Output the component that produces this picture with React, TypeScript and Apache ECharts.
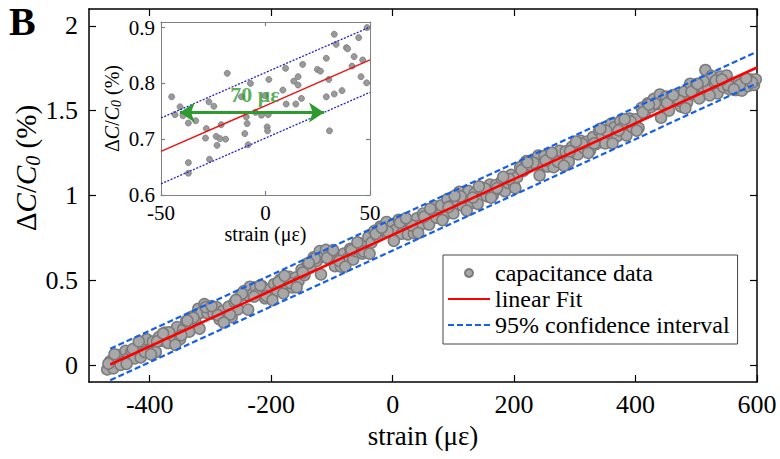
import React, { useEffect, useRef } from "react";
import * as echarts from "echarts";

const FONT = "Liberation Serif, Times New Roman, serif";

// ---- main panel data: strain (µε) and ΔC/C0 (%) ----
const strainRun1 = [
  -470, -465, -460, -455, -450, -445, -440, -435, -430, -425,
  -420, -415, -410, -405, -400, -395, -390, -385, -380, -375,
  -370, -365, -360, -355, -350, -345, -340, -335, -330, -325,
  -320, -315, -310, -305, -300, -295, -290, -285, -280, -275,
  -270, -265, -260, -255, -250, -245, -240, -235, -230, -225,
  -220, -215, -210, -205, -200, -195, -190, -185, -180, -175,
  -170, -165, -160, -155, -150, -145, -140, -135, -130, -125,
  -120, -115, -110, -105, -100, -95, -90, -85, -80, -75,
  -70, -65, -60, -55, -50, -45, -40, -35, -30, -25,
  -20, -15, -10, -5, 0, 5, 10, 15, 20, 25,
  30, 35, 40, 45, 50, 55, 60, 65, 70, 75,
  80, 85, 90, 95, 100, 105, 110, 115, 120, 125,
  130, 135, 140, 145, 150, 155, 160, 165, 170, 175,
  180, 185, 190, 195, 200, 205, 210, 215, 220, 225,
  230, 235, 240, 245, 250, 255, 260, 265, 270, 275,
  280, 285, 290, 295, 300, 305, 310, 315, 320, 325,
  330, 335, 340, 345, 350, 355, 360, 365, 370, 375,
  380, 385, 390, 395, 400, 405, 410, 415, 420, 425,
  430, 435, 440, 445, 450, 455, 460, 465, 470, 475,
  480, 485, 490, 495, 500, 505, 510, 515, 520, 525,
  530, 535, 540, 545, 550, 555, 560, 565, 570, 575,
  580, 585, 590, 595, 598,
];
const capRun1 = [
  -0.026, 0.023, -0.019, 0.029, 0.058, 0.016, 0.084, 0.042, 0.081, 0.039,
  0.107, 0.045, 0.104, 0.152, 0.09, 0.138, 0.077, 0.165, 0.143, 0.191,
  0.13, 0.188, 0.166, 0.224, 0.153, 0.211, 0.259, 0.197, 0.286, 0.264,
  0.332, 0.31, 0.359, 0.307, 0.345, 0.303, 0.342, 0.27, 0.318, 0.276,
  0.345, 0.283, 0.371, 0.329, 0.408, 0.436, 0.414, 0.462, 0.421, 0.459,
  0.427, 0.465, 0.394, 0.442, 0.4, 0.478, 0.437, 0.505, 0.423, 0.481,
  0.52, 0.458, 0.516, 0.494, 0.563, 0.531, 0.599, 0.577, 0.636, 0.614,
  0.672, 0.64, 0.679, 0.627, 0.655, 0.583, 0.632, 0.58, 0.658, 0.626,
  0.685, 0.623, 0.671, 0.719, 0.658, 0.716, 0.754, 0.722, 0.791, 0.759,
  0.817, 0.795, 0.844, 0.802, 0.83, 0.798, 0.857, 0.775, 0.833, 0.771,
  0.83, 0.778, 0.866, 0.824, 0.893, 0.861, 0.829, 0.897, 0.936, 0.884,
  0.942, 0.88, 0.979, 0.937, 0.895, 0.973, 1.022, 0.94, 0.988, 1.026,
  0.955, 1.013, 0.951, 1.049, 1.018, 0.996, 1.064, 1.002, 1.061, 1.039,
  1.087, 1.025, 1.074, 1.122, 1.06, 1.108, 1.167, 1.145, 1.203, 1.181,
  1.21, 1.188, 1.236, 1.184, 1.233, 1.171, 1.229, 1.167, 1.226, 1.264,
  1.202, 1.26, 1.199, 1.287, 1.265, 1.243, 1.322, 1.28, 1.318, 1.266,
  1.345, 1.303, 1.381, 1.349, 1.308, 1.376, 1.424, 1.402, 1.351, 1.439,
  1.407, 1.355, 1.454, 1.402, 1.45, 1.398, 1.517, 1.485, 1.543, 1.521,
  1.57, 1.538, 1.596, 1.534, 1.583, 1.501, 1.589, 1.557, 1.586, 1.524,
  1.612, 1.55, 1.659, 1.597, 1.655, 1.573, 1.642, 1.74, 1.628, 1.706,
  1.665, 1.603, 1.701, 1.639, 1.708, 1.626, 1.664, 1.622, 1.671, 1.619,
  1.677, 1.645, 1.684, 1.652, 1.685,
];
const strainRun2 = [
  -468, -448, -428, -408, -388, -368, -348, -328, -308, -288,
  -268, -248, -228, -208, -188, -168, -148, -128, -108, -88,
  -68, -48, -28, -8, 12, 32, 52, 72, 92, 112,
  132, 152, 172, 192, 212, 232, 252, 272, 292, 312,
  332, 352, 372, 392, 412, 432, 452, 472, 492, 512,
  532, 552, 572, 592,
];
const capRun2 = [
  0.008, 0.001, 0.094, 0.077, 0.14, 0.193, 0.176, 0.279, 0.342, 0.295,
  0.298, 0.421, 0.404, 0.407, 0.49, 0.483, 0.546, 0.629, 0.632, 0.615,
  0.678, 0.671, 0.774, 0.787, 0.84, 0.823, 0.876, 0.869, 0.932, 0.995,
  0.988, 1.041, 1.044, 1.097, 1.15, 1.193, 1.206, 1.199, 1.262, 1.305,
  1.308, 1.381, 1.384, 1.437, 1.49, 1.543, 1.546, 1.559, 1.612, 1.675,
  1.678, 1.651, 1.654, 1.667,
];
const strainRun3 = [
  -458, -438, -418, -398, -378, -358, -338, -318, -298, -278,
  -258, -238, -218, -198, -178, -158, -138, -118, -98, -78,
  -58, -38, -18, 2, 22, 42, 62, 82, 102, 122,
  142, 162, 182, 202, 222, 242, 262, 282, 302, 322,
  342, 362, 382, 402, 422, 442, 462, 482, 502, 522,
  542, 562, 582,
];
const capRun3 = [
  0.064, 0.007, 0.14, 0.063, 0.186, 0.119, 0.262, 0.215, 0.348, 0.251,
  0.384, 0.327, 0.47, 0.383, 0.526, 0.459, 0.602, 0.535, 0.678, 0.581,
  0.724, 0.657, 0.81, 0.733, 0.866, 0.779, 0.922, 0.855, 0.998, 0.911,
  1.054, 0.987, 1.11, 1.043, 1.196, 1.119, 1.252, 1.175, 1.318, 1.251,
  1.394, 1.307, 1.45, 1.383, 1.536, 1.459, 1.592, 1.515, 1.658, 1.591,
  1.684, 1.627, 1.69,
];
const fitStrain = [-465, 600];
const fitMain = [0.003, 1.755];
const confUpperMain = [0.096, 1.848];
const confLowerMain = [-0.09, 1.662];

// ---- inset data ----
const insetStrain = [
  -44.9, -43.3, -40.9, -39.5, -36.9, -33.4, -36.9, -36.9, -27.1, -24.7,
  -28.3, -28.7, -26.8, -23.6, -21.8, -19.1, -23.2, -21.2, -18.3, -11.5,
  -9.9, -8.8, -8.3, -9.2, -7.2, -4.8, -1.9, 1.3, 0.8, 1.0,
  -0.3, 1.6, 8.3, 9.9, 9.6, 13.5, 15.6, 15.6, 14.5, 17.2,
  17.8, 24.8, 26.3, 30.6, 29.1, 30.3, 29.1, 32.9, 33.8, 32.9,
  36.6, 38.7, 39.3, 41.4, 42.4, 44.6, 46.5, 45.7, 48.4, 48.6,
];
const insetCap = [
  0.776, 0.744, 0.758, 0.742, 0.729, 0.733, 0.658, 0.639, 0.767, 0.759,
  0.719, 0.702, 0.664, 0.705, 0.701, 0.7, 0.689, 0.726, 0.818, 0.776,
  0.71, 0.728, 0.69, 0.74, 0.8, 0.748, 0.743, 0.744, 0.722, 0.715,
  0.778, 0.807, 0.788, 0.763, 0.827, 0.804, 0.812, 0.797, 0.763, 0.773,
  0.834, 0.825, 0.822, 0.715, 0.776, 0.807, 0.845, 0.888, 0.87, 0.781,
  0.787, 0.864, 0.862, 0.831, 0.848, 0.882, 0.842, 0.812, 0.801, 0.9,
];
const fitInsetStrain = [-50, 50];
const fitInset = [0.678, 0.842];
const confUpperInset = [0.738, 0.901];
const confLowerInset = [0.62, 0.784];
const arrowFrom = [-41, 0.748];
const arrowTo = [28, 0.748];
const arrowLabelAt = [-5, 0.78];

// ---- ticks ----
const mainXTicks = [-400, -200, 0, 200, 400, 600];
const mainYTicks = [0, 0.5, 1, 1.5, 2];
const insetXTicks = [-50, 0, 50];
const insetYTicks = [0.6, 0.7, 0.8, 0.9];

const zip = (a: number[], b: number[]) => a.map((v, i) => [v, b[i]]);

const axisBase = (color: string, tickLen: number, ticks: number[]) => ({
  type: "value",
  splitLine: { show: false },
  axisLine: { show: true, onZero: false, lineStyle: { color, width: color === "#000" ? 1.5 : 1 } },
  axisTick: { show: true, inside: true, length: tickLen, customValues: ticks, lineStyle: { color, width: 1.2 } },
});

const serifLabel = (ticks: number[], size: number, margin: number) => ({
  customValues: ticks,
  margin,
  fontSize: size,
  fontFamily: FONT,
  color: "#000",
  formatter: (v: number) => `{t|${String(Math.round(v * 100) / 100)}}`,
  rich: { t: { fontSize: size, fontFamily: FONT, color: "#000" } },
});

const dcRich = (fs: number, sub: number, pad: number) => ({
  n: { fontSize: fs, fontFamily: FONT, color: "#000" },
  i: { fontSize: fs, fontFamily: FONT, fontStyle: "italic", color: "#000" },
  s: { fontSize: sub, fontFamily: FONT, fontStyle: "italic", color: "#000", padding: [pad, 0, 0, 0] },
});

const DC_TEXT = "{n|Δ}{i|C}{n|/}{i|C}{s|0}{n| (%)}";

function buildOption() {
  return {
    animation: false,
    backgroundColor: "#fff",
    textStyle: { fontFamily: FONT, color: "#000" },
    grid: [
      { left: 89, top: 9, width: 668, height: 373 },
      { left: 161, top: 22, width: 209, height: 173, show: true, backgroundColor: "#fff", borderWidth: 0 },
    ],
    xAxis: [
      {
        ...axisBase("#000", 7, mainXTicks),
        gridIndex: 0, min: -500, max: 600, position: "bottom",
        axisLabel: serifLabel(mainXTicks, 26, 9),
        name: "strain (με)", nameLocation: "middle", nameGap: 40,
        nameTextStyle: { fontSize: 27, fontFamily: FONT, color: "#000" },
      },
      {
        ...axisBase("#000", 7, mainXTicks),
        gridIndex: 0, min: -500, max: 600, position: "top",
        axisLabel: { show: false },
      },
      {
        ...axisBase("#808080", 4, insetXTicks),
        gridIndex: 1, min: -50, max: 50, position: "bottom",
        axisLabel: serifLabel(insetXTicks, 21, 7),
        name: "strain (με)", nameLocation: "middle", nameGap: 29,
        nameTextStyle: { fontSize: 20, fontFamily: FONT, color: "#000" },
      },
      {
        ...axisBase("#808080", 4, insetXTicks),
        gridIndex: 1, min: -50, max: 50, position: "top",
        axisLabel: { show: false },
      },
    ],
    yAxis: [
      {
        ...axisBase("#000", 7, mainYTicks),
        gridIndex: 0, min: -0.1, max: 2.1, position: "left",
        axisLabel: serifLabel(mainYTicks, 26, 11),
      },
      {
        ...axisBase("#000", 7, mainYTicks),
        gridIndex: 0, min: -0.1, max: 2.1, position: "right",
        axisLabel: { show: false },
      },
      {
        ...axisBase("#808080", 4, insetYTicks),
        gridIndex: 1, min: 0.6, max: 0.91, position: "left",
        axisLabel: serifLabel(insetYTicks, 21, 6),
        name: DC_TEXT, nameLocation: "middle", nameGap: 38, nameRotate: 90,
        nameTextStyle: { fontSize: 20, fontFamily: FONT, color: "#000", rich: dcRich(20, 14, 9) },
      },
      {
        ...axisBase("#808080", 4, insetYTicks),
        gridIndex: 1, min: 0.6, max: 0.91, position: "right",
        axisLabel: { show: false },
      },
    ],
    legend: {
      orient: "vertical",
      left: 443,
      top: 255,
      padding: [6, 8, 7, 4],
      itemGap: 2,
      itemWidth: 42,
      itemHeight: 8,
      backgroundColor: "#fff",
      borderColor: "#444",
      borderWidth: 1,
      borderRadius: 0,
      formatter: (name: string) => `{t|${name}}`,
      textStyle: {
        fontSize: 24,
        fontFamily: FONT,
        color: "#000",
        rich: { t: { fontSize: 24, fontFamily: FONT, color: "#000" } },
      },
      data: [
        { name: "capacitance data", icon: "circle" },
        { name: "linear Fit", itemStyle: { opacity: 0 } },
        { name: "95% confidence interval", itemStyle: { opacity: 0 } },
      ],
    },
    graphic: [
      {
        type: "text",
        left: 9,
        top: 1,
        style: { text: "B", font: "bold 40px Liberation Serif, serif", fill: "#000" },
      },
      {
        type: "text",
        x: 26,
        y: 168,
        rotation: Math.PI / 2,
        style: {
          text: DC_TEXT,
          rich: dcRich(29, 20, 13),
          align: "center",
          verticalAlign: "middle",
          font: "29px Liberation Serif, serif",
          fill: "#000",
        },
      },
    ],
    series: [
      {
        name: "capacitance data",
        type: "scatter",
        xAxisIndex: 0,
        yAxisIndex: 0,
        symbol: "circle",
        symbolSize: 11,
        itemStyle: { color: "#a8a8a8", borderColor: "#7b7b7b", borderWidth: 1.5, opacity: 1 },
        data: [...zip(strainRun1, capRun1), ...zip(strainRun2, capRun2), ...zip(strainRun3, capRun3)],
        z: 2,
      },
      {
        name: "95% confidence interval",
        type: "line",
        xAxisIndex: 0,
        yAxisIndex: 0,
        symbol: "none",
        lineStyle: { color: "#1560e8", width: 2.2, type: [6, 3] },
        itemStyle: { color: "#1560e8" },
        data: zip(fitStrain, confUpperMain),
        z: 3,
      },
      {
        name: "95% confidence interval",
        type: "line",
        xAxisIndex: 0,
        yAxisIndex: 0,
        symbol: "none",
        lineStyle: { color: "#1560e8", width: 2.2, type: [6, 3] },
        itemStyle: { color: "#1560e8" },
        data: zip(fitStrain, confLowerMain),
        z: 3,
      },
      {
        name: "linear Fit",
        type: "line",
        xAxisIndex: 0,
        yAxisIndex: 0,
        symbol: "none",
        lineStyle: { color: "#ff0000", width: 2.6 },
        itemStyle: { color: "#ff0000" },
        data: zip(fitStrain, fitMain),
        z: 4,
      },
      {
        name: "inset data",
        type: "scatter",
        xAxisIndex: 2,
        yAxisIndex: 2,
        symbol: "circle",
        symbolSize: 6,
        itemStyle: { color: "#9a9a9a", borderColor: "#7a7a7a", borderWidth: 0.8, opacity: 1 },
        data: zip(insetStrain, insetCap),
        z: 2,
      },
      {
        name: "inset upper",
        type: "line",
        xAxisIndex: 2,
        yAxisIndex: 2,
        symbol: "none",
        lineStyle: { color: "#2222cc", width: 1.3, type: [2, 1.5] },
        data: zip(fitInsetStrain, confUpperInset),
        z: 3,
      },
      {
        name: "inset lower",
        type: "line",
        xAxisIndex: 2,
        yAxisIndex: 2,
        symbol: "none",
        lineStyle: { color: "#2222cc", width: 1.3, type: [2, 1.5] },
        data: zip(fitInsetStrain, confLowerInset),
        z: 3,
      },
      {
        name: "inset fit",
        type: "line",
        xAxisIndex: 2,
        yAxisIndex: 2,
        symbol: "none",
        lineStyle: { color: "#ee1111", width: 1.4 },
        data: zip(fitInsetStrain, fitInset),
        z: 4,
      },
      {
        name: "arrow",
        type: "lines",
        coordinateSystem: "cartesian2d",
        xAxisIndex: 2,
        yAxisIndex: 2,
        symbol: ["arrow", "arrow"],
        symbolSize: 15,
        lineStyle: { color: "#2f9a2f", width: 3, opacity: 1, curveness: 0 },
        data: [{ coords: [arrowFrom, arrowTo] }],
        z: 6,
      },
      {
        name: "arrow label",
        type: "scatter",
        xAxisIndex: 2,
        yAxisIndex: 2,
        symbolSize: 0,
        silent: true,
        label: {
          show: true,
          position: "inside",
          formatter: "70 με",
          fontSize: 22,
          fontWeight: "bold",
          fontFamily: FONT,
          color: "#2f9a2f",
        },
        data: [arrowLabelAt],
        z: 7,
      },
    ],
  };
}

export default function App() {
  const ref = useRef<HTMLDivElement>(null);
  useEffect(() => {
    document.body.style.margin = "0";
    const chart = echarts.init(ref.current as HTMLDivElement, null, { renderer: "svg" });
    chart.setOption(buildOption() as any);
    return () => chart.dispose();
  }, []);
  return <div ref={ref} style={{ width: 780, height: 459 }} />;
}
